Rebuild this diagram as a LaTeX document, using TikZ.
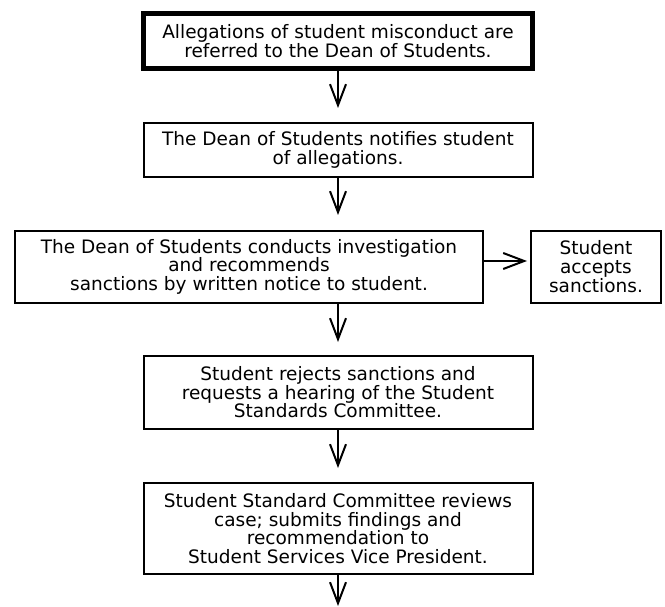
\documentclass[tikz,border=0pt]{standalone}
\usepackage{fontspec}
\setmainfont{DejaVu Sans}
\usetikzlibrary{arrows.meta}
\tikzset{
  box/.style={draw=black, line width=2pt, fill=white, inner sep=0pt, align=center,
    font=\fontsize{18.5}{18.6}\selectfont},
  thickbox/.style={box, line width=4.5pt},
  flow/.style={draw=black, line width=2pt, -{Straight Barb[length=21pt,width=16pt,line width=2pt]}}
}
\begin{document}
\begin{tikzpicture}[x=1pt,y=-1pt]
\useasboundingbox (0,0) rectangle (665,607);
\node[thickbox, minimum width=389pt, minimum height=55pt] (b1) at (338,41)
  {Allegations of student misconduct are\\referred to the Dean of Students.};
\node[box, minimum width=389pt, minimum height=54.5pt] (b2) at (338,150)
  {The Dean of Students notifies student\\of allegations.};
\node[box, minimum width=468pt, minimum height=72pt] (b3) at (249,266.7)
  {The Dean of Students conducts investigation\\and recommends\\sanctions by written notice to student.};
\node[box, minimum width=130pt, minimum height=72pt] (b4) at (596,266.7)
  {Student\\accepts\\sanctions.};
\node[box, minimum width=389pt, minimum height=73pt] (b5) at (338,392.5)
  {Student rejects sanctions and\\requests a hearing of the Student\\Standards Committee.};
\node[box, minimum width=389pt, minimum height=91pt] (b6) at (338,528.5)
  {Student Standard Committee reviews\\case; submits findings and\\recommendation to\\Student Services Vice President.};
\coordinate (t1) at (338,108);
\coordinate (t2) at (338,215);
\coordinate (t3) at (338,342);
\coordinate (t4) at (338,468);
\coordinate (t5) at (338,606);
\coordinate (tr) at (527,261);
\draw[flow] (b1.south) -- (t1);
\draw[flow] (b2.south) -- (t2);
\draw[flow] (b3.south -| t3) -- (t3);
\draw[flow] (b5.south) -- (t4);
\draw[flow] (b6.south) -- (t5);
\draw[flow] (b3.east |- tr) -- (tr);
\end{tikzpicture}
\end{document}
